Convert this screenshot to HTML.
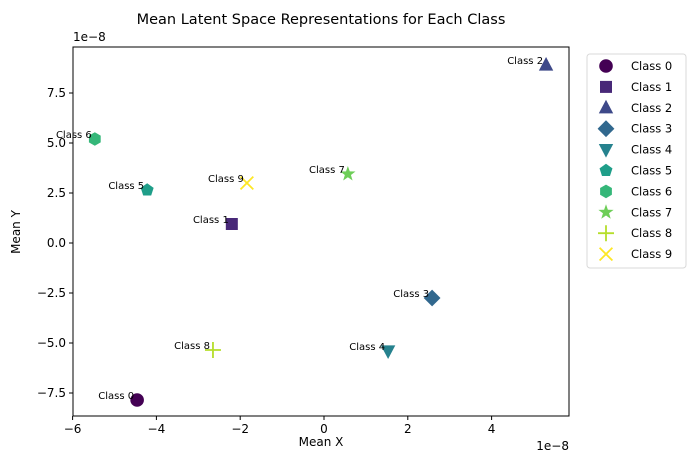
<!DOCTYPE html>
<html><head><meta charset="utf-8"><style>
body{margin:0;background:#fff;font-family:"Liberation Sans","DejaVu Sans",sans-serif}
</style></head><body>
<svg id="chart" width="695" height="470" xmlns="http://www.w3.org/2000/svg" font-family="DejaVu Sans, Liberation Sans, sans-serif">
<rect width="695" height="470" fill="#fff"/>
<text x="321" y="24" font-size="14.5" text-anchor="middle">Mean Latent Space Representations for Each Class</text>
<g id="axes"></g>
<g id="marks"></g>
<g id="legend"></g>
</svg>
<script>
const classes=["Class 0","Class 1","Class 2","Class 3","Class 4","Class 5","Class 6","Class 7","Class 8","Class 9"];
const xVals=[-4.46,-2.2,5.3,2.58,1.53,-4.22,-5.47,0.57,-2.65,-1.84];
const yVals=[-7.85,0.95,8.9,-2.75,-5.4,2.65,5.2,3.45,-5.35,3.0];
const xTicks=[-6,-4,-2,0,2,4];
const yTicks=[-7.5,-5.0,-2.5,0.0,2.5,5.0,7.5];
const colors=["#440154","#482878","#3e4989","#31688e","#26828e","#1f9e89","#35b779","#6ece58","#b5de2b","#fde725"];
const shapes=["circle","square","triangle","diamond","tri-down","pentagon","hexagon","star","plus","x"];
const L=73,R=569,T=47,B=416;
const sx=v=>324+(v)*41.9;
const sy=v=>243-(v)*20;
const NS="http://www.w3.org/2000/svg";
function mk(tag,attrs,parent){const e=document.createElementNS(NS,tag);for(const k in attrs)e.setAttribute(k,attrs[k]);parent.appendChild(e);return e;}
const axes=document.getElementById('axes');
const frame=mk('rect',{x:L,y:T,width:R-L,height:B-T,fill:'none',stroke:'#000','stroke-width':1},axes);


xTicks.forEach(t=>{const x=sx(t);
 const l=mk('line',{x1:x,x2:x,y1:B,y2:B+4,stroke:'#000'},axes);
 
 
 const tx=mk('text',{x:x,y:B+17,'font-size':12,'text-anchor':'middle'},axes);tx.textContent=String(t).replace('-','\u2212');
 
 });
yTicks.forEach(t=>{const y=sy(t);
 const l=mk('line',{x1:L-4,x2:L,y1:y,y2:y,stroke:'#000'},axes);
 
 
 const tx=mk('text',{x:L-7,y:y+4,'font-size':12,'text-anchor':'end'},axes);tx.textContent=t.toFixed(1).replace('-','\u2212');
 
 });
[[L,T-6,'start','y-offset-label'],[R,B+34,'end','x-offset-label']].forEach(a=>{const tx=mk('text',{x:a[0],y:a[1],'font-size':12,'text-anchor':a[2]},axes);tx.textContent='1e\u22128';
 
 });
const xl=mk('text',{x:321,y:446,'font-size':12,'text-anchor':'middle'},axes);xl.textContent='Mean X';


const yl=mk('text',{x:20,y:232,'font-size':12,'text-anchor':'middle',transform:'rotate(-90 20 232)'},axes);yl.textContent='Mean Y';


function marker(shape,cx,cy,c,s,parent){
 let e;const r=s;
 const poly=pts=>mk('polygon',{points:pts.map(p=>p.join(',')).join(' '),fill:c},parent);
 const reg=(n,rad,rot)=>{const p=[];for(let i=0;i<n;i++){const a=rot+i*2*Math.PI/n;p.push([cx+rad*Math.cos(a),cy+rad*Math.sin(a)]);}return p;};
 switch(shape){
 case 'circle':e=mk('circle',{cx:cx,cy:cy,r:r*0.85,fill:c},parent);break;
 case 'square':e=mk('rect',{x:cx-r*0.75,y:cy-r*0.75,width:r*1.5,height:r*1.5,fill:c},parent);break;
 case 'triangle':e=poly([[cx,cy-r],[cx+r*0.9,cy+r*0.7],[cx-r*0.9,cy+r*0.7]]);break;
 case 'tri-down':e=poly([[cx,cy+r],[cx+r*0.9,cy-r*0.7],[cx-r*0.9,cy-r*0.7]]);break;
 case 'diamond':e=poly([[cx,cy-r*1.05],[cx+r*1.05,cy],[cx,cy+r*1.05],[cx-r*1.05,cy]]);break;
 case 'pentagon':e=poly(reg(5,r*0.85,-Math.PI/2));break;
 case 'hexagon':e=poly(reg(6,r*0.85,-Math.PI/2));break;
 case 'star':{const p=[];for(let i=0;i<10;i++){const a=-Math.PI/2+i*Math.PI/5;const rr=i%2?r*0.4:r;p.push([cx+rr*Math.cos(a),cy+rr*Math.sin(a)]);}e=poly(p);break;}
 case 'plus':e=mk('path',{d:`M${cx-r} ${cy}H${cx+r}M${cx} ${cy-r}V${cy+r}`,stroke:c,'stroke-width':1.8,fill:'none'},parent);break;
 case 'x':e=mk('path',{d:`M${cx-r*0.8} ${cy-r*0.8}L${cx+r*0.8} ${cy+r*0.8}M${cx+r*0.8} ${cy-r*0.8}L${cx-r*0.8} ${cy+r*0.8}`,stroke:c,'stroke-width':1.8,fill:'none'},parent);break;
 }
 return e;
}
const marks=document.getElementById('marks');
classes.forEach((c,i)=>{const x=sx(xVals[i]),y=sy(yVals[i]);
 const m=marker(shapes[i],x,y,colors[i],8,marks);
 
 
 const t=mk('text',{x:x-3,y:y-1,'font-size':10,'text-anchor':'end'},marks);t.textContent=c;
 
 });
const lg=document.getElementById('legend');
const box=mk('rect',{x:587,y:54,width:99,height:214,rx:3,fill:'#fff',stroke:'#d9d9d9'},lg);


classes.forEach((c,i)=>{const y=66+i*20.9;
 const m=marker(shapes[i],606,y,colors[i],8,lg);
 
 
 const t=mk('text',{x:631,y:y+4,'font-size':11.5},lg);t.textContent=c;
 
 });
</script>
</body></html>
